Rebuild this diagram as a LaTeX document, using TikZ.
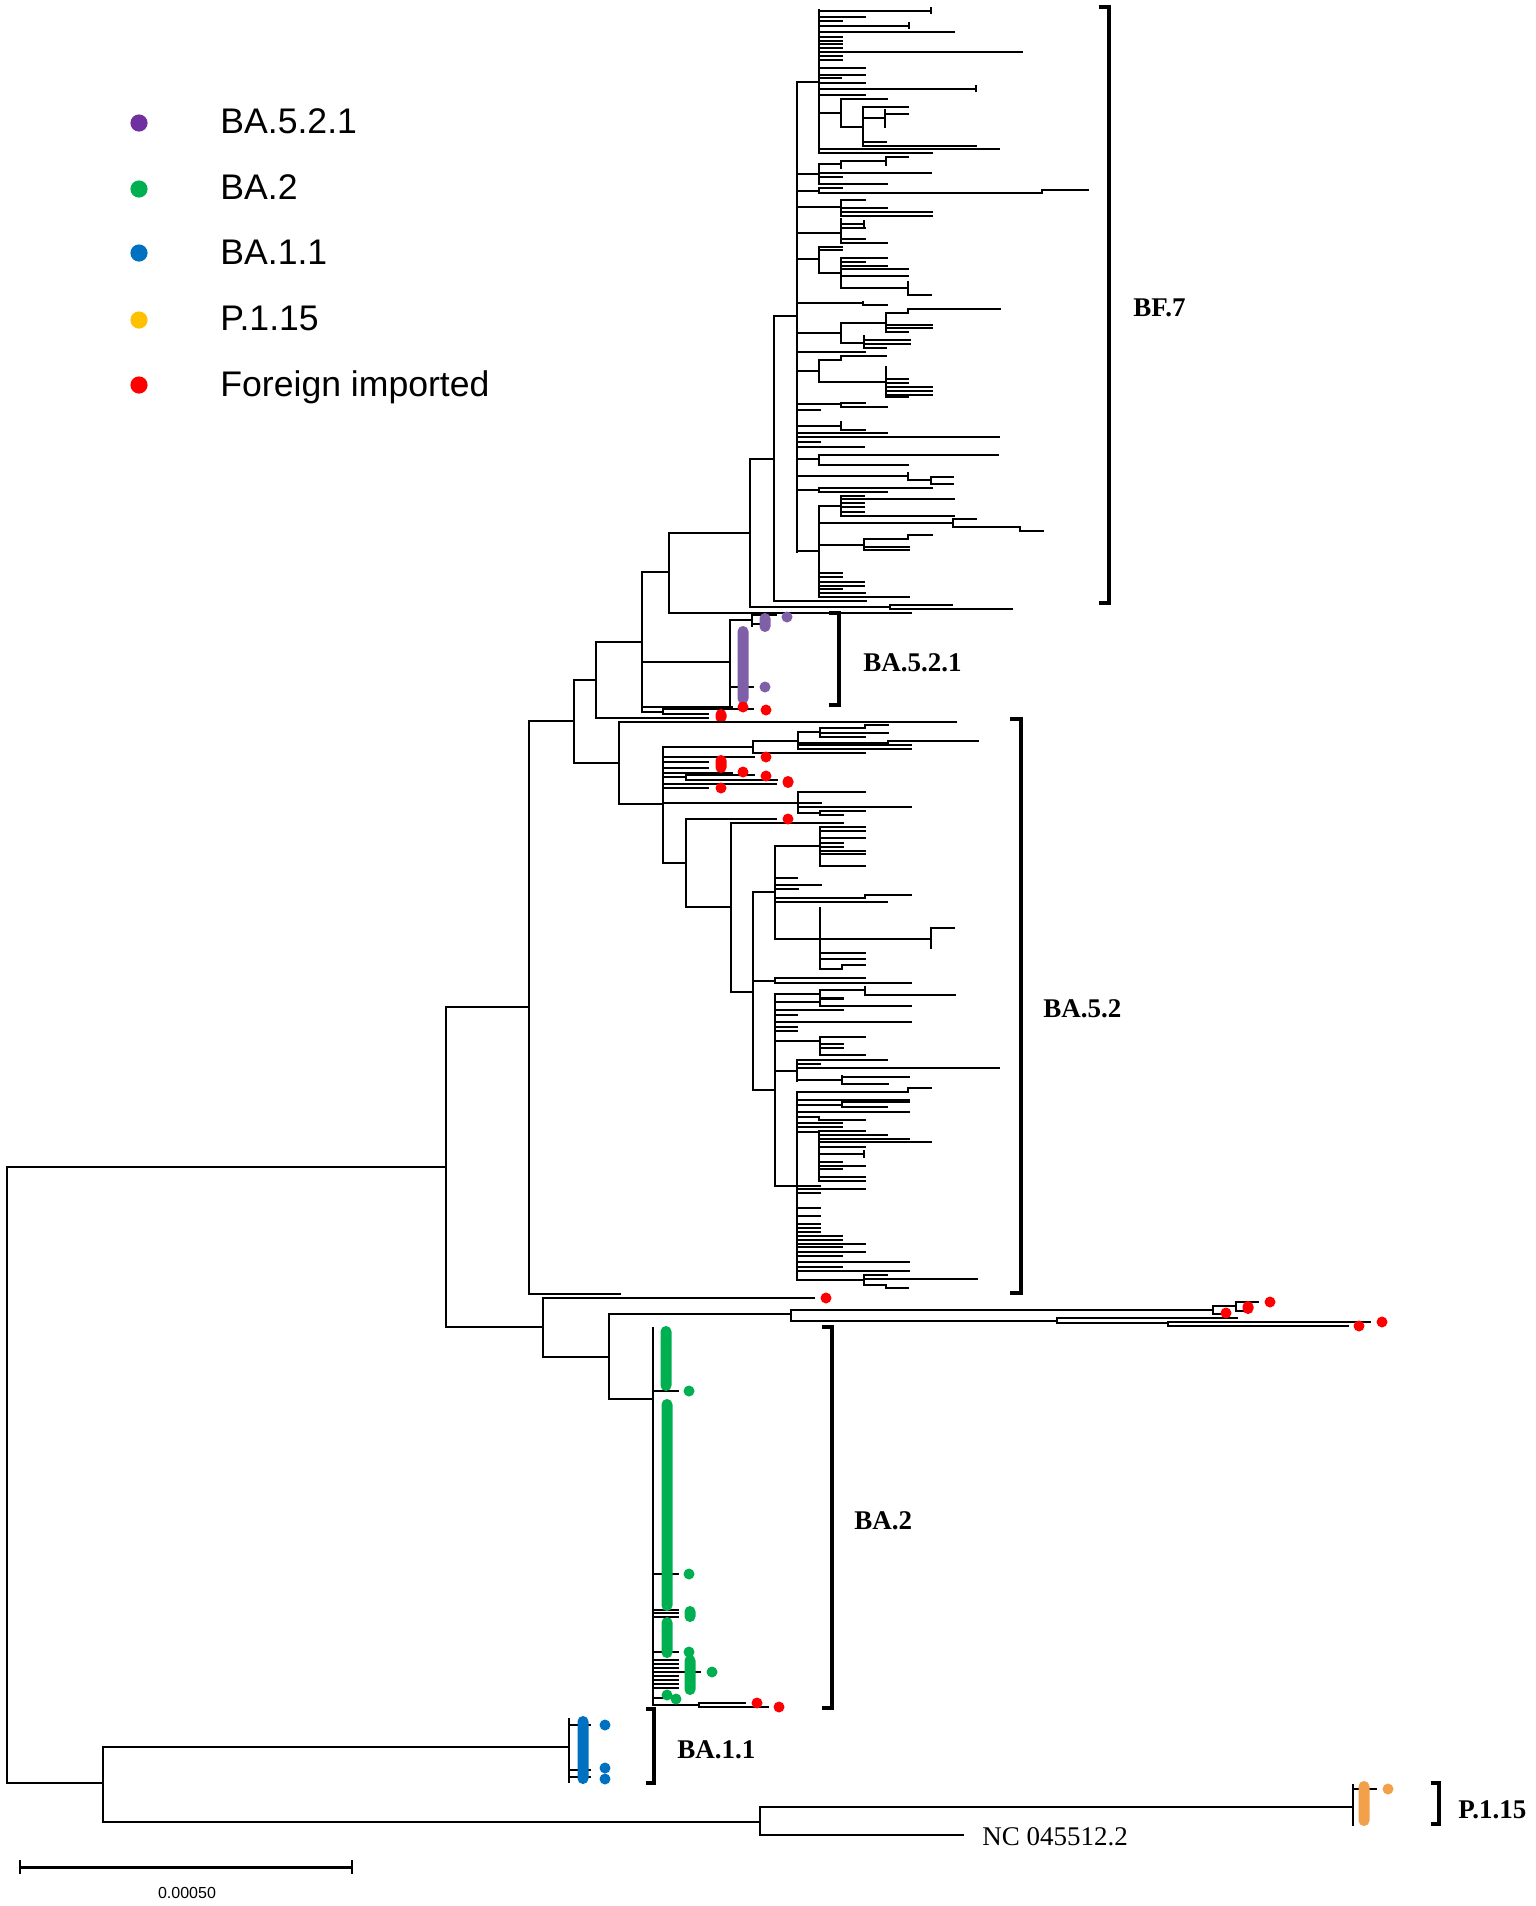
\documentclass[tikz,border=0pt]{standalone}
\usepackage{fontspec}
\setmainfont{Liberation Serif}
\newfontfamily\arialf{Liberation Sans}
\definecolor{cpurple}{HTML}{7030A0}
\definecolor{tpurple}{HTML}{7F5FA8}
\definecolor{cgreen}{HTML}{00B050}
\definecolor{cblue}{HTML}{0070C0}
\definecolor{cyellow}{HTML}{FFC000}
\definecolor{corange}{HTML}{F2A04A}
\definecolor{cred}{HTML}{FF0000}
\newcommand\Vln[3]{\draw[tl] (#1,#2) -- (#1,#3);}
\newcommand\Lvs[2]{\foreach \yy/\xx in {#2}{\draw[tl] (#1,\yy) -- (\xx,\yy);}}
\newcommand\Dot[3]{\fill[#1] (#2,#3) circle[radius=2.75pt];}
\newcommand\Col[4]{\fill[#1, rounded corners=2.7pt] (#2-5.5,#3-1) rectangle (#2+5.5,#4+1);}
\newcommand\Brk[4]{\draw[brk] (#2,#3) -- (#1,#3) -- (#1,#4) -- (#2,#4);}
\begin{document}
\begin{tikzpicture}[x=0.5pt,y=-0.5pt,
  tl/.style={line width=1pt, line cap=rect},
  brk/.style={line width=2pt},
  clab/.style={font=\bfseries\fontsize{13.5}{15}\selectfont, anchor=west, inner sep=0pt},
  leg/.style={font=\arialf\fontsize{17.8}{19}\selectfont, anchor=base west, inner sep=0pt}]
\fill[white] (0,0) rectangle (1536,1906);
\useasboundingbox (0,0) rectangle (1536,1906);

% ---------- legend ----------
\fill[cpurple] (139,123) circle[radius=4.3pt];
\fill[cgreen] (139,189) circle[radius=4.3pt];
\fill[cblue] (139,253) circle[radius=4.3pt];
\fill[cyellow] (139,320) circle[radius=4.3pt];
\fill[cred] (139,385) circle[radius=4.3pt];
\node[leg] (l1) at (220,133) {BA.5.2.1};
\node[leg] (l2) at (220,199) {BA.2};
\node[leg] (l3) at (220,264) {BA.1.1};
\node[leg] (l4) at (220,330) {P.1.15};
\node[leg] (l5) at (220,396) {Foreign imported};

% ---------- backbone ----------
\Vln{7}{1167}{1783}
\Lvs{7}{1167/446, 1783/103}
\Vln{446}{1007}{1327}
\Lvs{446}{1007/529, 1327/543}
\Vln{529}{721}{1294}
\Lvs{529}{721/574, 1294/620}
\Vln{574}{680}{763}
\Lvs{574}{680/596, 763/619}
\Vln{596}{642}{718}
\Lvs{596}{642/642, 718/708}
\Vln{642}{572}{712}
\Lvs{642}{572/669, 662/730, 707/732, 712/663}
\Vln{663}{709}{714}
\Lvs{663}{709/753, 714/708}
\Vln{669}{533}{613}
\Lvs{669}{533/750, 613/911}
\Vln{750}{459}{607}
\Lvs{750}{459/774, 607/890}
\Vln{890}{605}{609}
\Lvs{890}{605/952, 609/1012}
\Vln{774}{316}{601}
\Lvs{774}{316/797, 601/866}

% ---------- BF.7 ----------
\Vln{797}{82}{552}
\Lvs{797}{82/819, 174/819, 191/819, 207/841, 233/841, 259/819, 303/863, 333/841, 352/865, 371/819, 404/841, 410/820, 426/841, 433/887, 437/999, 442/820, 447/864, 459/819, 476/908, 490/819, 551/819}
\Vln{819}{10}{153}
\Lvs{819}{11/931, 17/865, 21/842, 26/909, 32/954, 37/842, 41/842, 44/842, 48/842, 52/1022, 56/842, 60/842, 68/865, 75/865, 78/841, 83/865, 89/976, 95/865, 113/841, 149/999, 153/932}
\Vln{931}{8}{13} \Vln{909}{23}{28} \Vln{976}{86}{91}
\Vln{841}{99}{127}
\Lvs{841}{99/887, 127/863}
\Vln{863}{107}{146}
\Lvs{863}{107/908, 118/885, 142/886, 146/976}
\Vln{885}{110}{127}
\Lvs{885}{114/908}
\Vln{819}{164}{184}
\Lvs{819}{164/841, 173/931, 177/842, 184/887}
\Vln{841}{161}{168}
\Lvs{841}{161/886}
\Vln{886}{157}{165}
\Lvs{886}{157/908}
\Vln{819}{188}{193}
\Lvs{819}{188/842, 193/1042}
\Vln{1042}{190}{193}
\Lvs{1042}{190/1088}
\Vln{841}{200}{216}
\Lvs{841}{200/865, 208/887, 212/932, 216/932}
\Vln{841}{219}{243}
\Lvs{841}{224/864, 228/865, 239/865, 243/887}
\Vln{864}{221}{226}
\Vln{819}{247}{273}
\Lvs{819}{247/842, 250/842, 273/841}
\Vln{841}{258}{288}
\Lvs{841}{258/887, 262/865, 266/887, 269/908, 276/908, 288/908}
\Vln{908}{282}{295}
\Lvs{908}{295/931}
\Vln{863}{302}{305}
\Lvs{863}{305/887}
\Vln{841}{323}{343}
\Lvs{841}{323/886, 343/864}
\Vln{886}{313}{332}
\Lvs{886}{313/908, 325/932, 328/932, 332/908}
\Vln{908}{309}{313}
\Lvs{908}{309/1000}
\Vln{864}{336}{348}
\Lvs{864}{340/910, 344/910, 348/886}
\Vln{819}{360}{382}
\Lvs{819}{360/841, 382/886}
\Vln{841}{356}{360}
\Lvs{841}{356/886}
\Vln{886}{367}{397}
\Lvs{886}{379/908, 383/908, 387/932, 391/932, 395/932, 397/908}
\Vln{841}{403}{407}
\Lvs{841}{403/865, 407/887}
\Vln{841}{422}{430}
\Lvs{841}{430/865}
\Vln{819}{455}{465}
\Lvs{819}{455/998, 465/886}
\Lvs{886}{465/908}
\Vln{908}{473}{480}
\Lvs{908}{480/931}
\Vln{931}{477}{484}
\Lvs{931}{477/953, 484/953}
\Vln{819}{488}{492}
\Lvs{819}{488/932, 492/887}
\Vln{819}{506}{597}
\Lvs{819}{506/841, 523/953, 545/864, 573/842, 577/842, 582/864, 586/864, 589/842, 593/865, 597/909}
\Vln{841}{496}{516}
\Lvs{841}{496/864, 499/954, 503/864, 507/864, 512/864, 516/954}
\Vln{953}{519}{527}
\Lvs{953}{519/976, 527/1020}
\Vln{1020}{527}{531}
\Lvs{1020}{531/1043}
\Vln{864}{539}{550}
\Lvs{864}{539/908, 547/909, 550/909}
\Vln{908}{535}{539}
\Lvs{908}{535/932}

% ---------- BA.5.2.1 ----------
\Vln{730}{620}{708}
\Lvs{730}{620/752, 687/753}
\Vln{752}{613}{626}
\Lvs{752}{615/776, 624/760}
\Col{tpurple}{743}{627}{703}
\Col{tpurple}{765}{614}{631}
\Dot{tpurple}{787}{617}
\Dot{tpurple}{765}{687}
\Dot{cred}{743}{707}
\Dot{cred}{766}{710}
\Col{cred}{721}{710}{722}

% ---------- BA.5.2 ----------
\Vln{619}{722}{804}
\Lvs{619}{722/956, 804/663}
\Vln{663}{747}{863}
\Lvs{663}{747/753, 757/754, 762/708, 768/708, 773/732, 777/686, 784/776, 788/708, 803/798, 863/686}
\Vln{753}{741}{753}
\Lvs{753}{741/798, 753/865}
\Vln{798}{732}{749}
\Lvs{798}{732/820, 743/888, 745/911, 749/911}
\Vln{820}{728}{737}
\Lvs{820}{728/865, 733/888, 737/865}
\Vln{865}{725}{728}
\Lvs{865}{725/888}
\Vln{888}{741}{743}
\Lvs{888}{741/978}
\Vln{686}{773}{780}
\Lvs{686}{775/754, 780/777}
\Vln{798}{792}{813}
\Lvs{798}{792/865, 803/821, 807/911, 813/820}
\Vln{820}{811}{815}
\Lvs{820}{811/865, 815/843}
\Vln{686}{819}{907}
\Lvs{686}{819/776, 907/731}
\Vln{731}{823}{992}
\Lvs{731}{823/843, 992/753}
\Vln{753}{892}{1090}
\Lvs{753}{892/775, 981/775, 1090/775}
\Vln{775}{846}{939}
\Lvs{775}{846/820, 878/797, 885/821, 889/798, 898/865, 902/887, 939/820}
\Vln{820}{827}{866}
\Lvs{820}{827/865, 831/865, 838/865, 843/843, 847/843, 851/865, 854/865, 866/865}
\Vln{865}{895}{898}
\Lvs{865}{895/911}
\Vln{820}{908}{969}
\Lvs{820}{939/931, 953/865, 959/865, 969/842}
\Vln{931}{928}{948}
\Lvs{931}{928/954}
\Vln{842}{965}{969}
\Lvs{842}{965/865}
\Vln{775}{978}{983}
\Lvs{775}{978/865, 983/911}
\Vln{775}{994}{1186}
\Lvs{775}{994/820, 1002/820, 1010/843, 1015/797, 1022/911, 1027/797, 1031/797, 1041/820, 1071/797, 1186/797}
\Vln{820}{990}{998}
\Lvs{820}{990/865, 998/843}
\Vln{865}{987}{995}
\Lvs{865}{995/955}
\Vln{820}{999}{1006}
\Lvs{820}{999/843, 1006/911}
\Vln{820}{1037}{1055}
\Lvs{820}{1037/865, 1044/843, 1048/843, 1055/865}
\Vln{797}{1060}{1081}
\Lvs{797}{1060/887, 1064/820, 1068/999, 1080/842}
\Vln{842}{1076}{1084}
\Lvs{842}{1077/909, 1084/888}
\Vln{797}{1092}{1280}
\Lvs{797}{1092/908, 1100/909, 1105/842, 1112/909, 1117/819, 1123/842, 1127/842, 1132/819, 1186/820, 1189/865, 1193/820, 1208/820, 1216/820, 1224/820, 1228/820, 1232/820, 1236/842, 1240/842, 1244/865, 1247/842, 1252/865, 1256/842, 1262/909, 1267/842, 1271/909, 1280/864}
\Vln{908}{1088}{1092}
\Lvs{908}{1088/931}
\Vln{842}{1102}{1107}
\Lvs{842}{1102/909, 1107/887}
\Vln{819}{1117}{1120}
\Lvs{819}{1120/865}
\Vln{819}{1131}{1181}
\Lvs{819}{1131/865, 1135/887, 1139/909, 1142/931, 1147/865, 1154/864, 1162/842, 1166/865, 1169/842, 1177/865, 1181/865}
\Vln{864}{1151}{1157}
\Vln{864}{1275}{1285}
\Lvs{864}{1275/887, 1279/977, 1285/886}
\Vln{886}{1285}{1288}
\Lvs{886}{1288/908}
\Dot{cred}{766}{757}
\Col{cred}{721}{756}{772}
\Dot{cred}{743}{772}
\Dot{cred}{766}{776}
\Col{cred}{788}{777}{787}
\Dot{cred}{721}{788}
\Dot{cred}{788}{819}

% ---------- long imported branches & BA.2 ----------
\Vln{543}{1298}{1357}
\Lvs{543}{1298/814, 1357/609}
\Dot{cred}{826}{1298}
\Vln{609}{1314}{1399}
\Lvs{609}{1314/791, 1399/653}
\Vln{791}{1310}{1321}
\Lvs{791}{1310/1213, 1321/1057}
\Vln{1213}{1306}{1314}
\Lvs{1213}{1306/1236, 1314/1220}
\Vln{1236}{1302}{1311}
\Lvs{1236}{1302/1258, 1311/1244}
\Vln{1057}{1318}{1323}
\Lvs{1057}{1318/1237, 1323/1168}
\Vln{1168}{1322}{1326}
\Lvs{1168}{1322/1370, 1326/1348}
\Dot{cred}{1226}{1313}
\Col{cred}{1248}{1302}{1313}
\Dot{cred}{1270}{1302}
\Dot{cred}{1359}{1326}
\Dot{cred}{1382}{1322}

\Vln{653}{1328}{1705}
\Lvs{653}{1391/678, 1574/678, 1610/678, 1613/678, 1617/678, 1652/678, 1660/678, 1664/678, 1668/678, 1672/700, 1676/678, 1680/678, 1684/678, 1688/678, 1698/669, 1705/699}
\Vln{699}{1703}{1707}
\Lvs{699}{1703/745, 1707/768}
\Col{cgreen}{666}{1327}{1390}
\Col{cgreen}{667}{1400}{1610}
\Col{cgreen}{667}{1618}{1657}
\Dot{cgreen}{689}{1391}
\Dot{cgreen}{689}{1574}
\Col{cgreen}{690}{1607}{1621}
\Dot{cgreen}{689}{1652}
\Col{cgreen}{690}{1656}{1694}
\Dot{cgreen}{712}{1672}
\Dot{cgreen}{667}{1695}
\Dot{cgreen}{676}{1699}
\Dot{cred}{757}{1703}
\Dot{cred}{779}{1707}

% ---------- BA.1.1, reference, P.1.15 ----------
\Vln{103}{1747}{1822}
\Lvs{103}{1747/569, 1822/760}
\Vln{569}{1719}{1782}
\Lvs{569}{1725/590, 1770/590, 1777/590}
\Col{cblue}{583}{1717}{1783}
\Dot{cblue}{605}{1725}
\Dot{cblue}{605}{1768}
\Dot{cblue}{605}{1779}
\Vln{760}{1807}{1835}
\Lvs{760}{1807/1353, 1835/963}
\Vln{1353}{1785}{1825}
\Lvs{1353}{1789/1376}
\Col{corange}{1364}{1782}{1825}
\Dot{corange}{1388}{1789}

% ---------- brackets and labels ----------
\Brk{1109}{1099}{7}{603}
\Brk{839}{829}{613}{705}
\Brk{1021}{1010}{719}{1293}
\Brk{832}{822}{1327}{1708}
\Brk{654}{646}{1709}{1783}
\Brk{1439}{1431}{1783}{1824}
\node[clab] (bf7) at (1133,308) {BF.7};
\node[clab] (ba521) at (863,663) {BA.5.2.1};
\node[clab] (ba52) at (1043,1009) {BA.5.2};
\node[clab] (ba2) at (854,1521) {BA.2};
\node[clab] (ba11) at (677,1750) {BA.1.1};
\node[clab] (p115) at (1458,1810) {P.1.15};
\node[font=\fontsize{13.5}{15}\selectfont, anchor=west, inner sep=0pt] (nc) at (982,1837) {NC 045512.2};

% ---------- scale bar ----------
\draw[line width=1.5pt] (20,1867) -- (352,1867);
\draw[line width=0.9pt] (20,1860) -- (20,1874);
\draw[line width=0.9pt] (352,1860) -- (352,1874);
\node[font=\arialf\fontsize{8}{9}\selectfont, inner sep=0pt] (sc) at (187,1893) {0.00050};
\end{tikzpicture}
\end{document}
